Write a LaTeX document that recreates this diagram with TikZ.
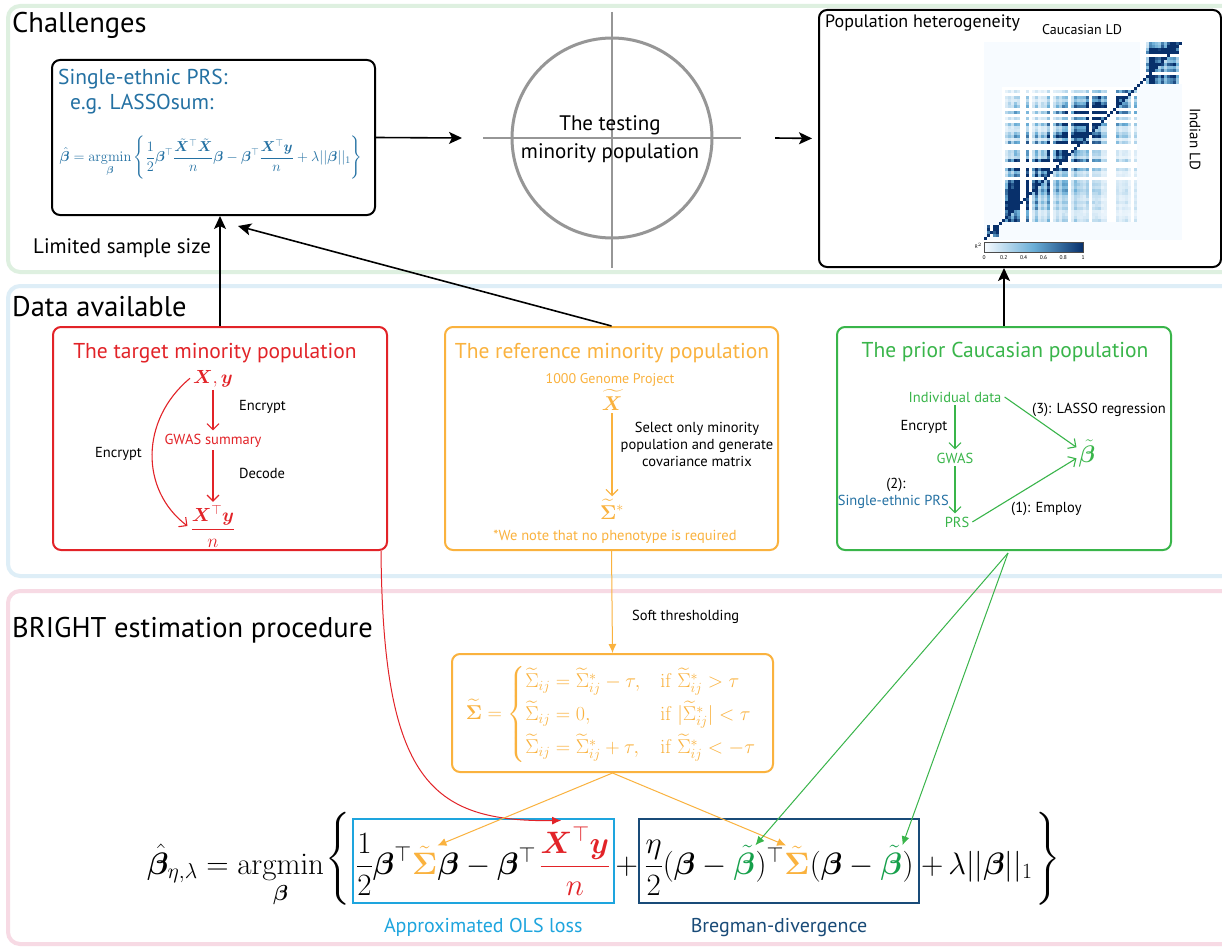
\RequirePackage{fix-cm}
\documentclass[tikz,border=0pt]{standalone}
\usepackage{amsmath,amssymb,bm}
\usepackage[no-math]{fontspec}
\setmainfont{PT Sans}
\usetikzlibrary{arrows.meta,calc}
\newcommand{\fsz}[2]{\fontsize{#1pt}{#2pt}\selectfont}
\definecolor{cred}{RGB}{226,35,40}
\definecolor{cyel}{RGB}{250,178,62}
\definecolor{cgrn}{RGB}{57,181,74}
\definecolor{cgrnd}{RGB}{22,160,75}
\definecolor{cblue}{RGB}{36,113,163}
\definecolor{olsblue}{RGB}{30,165,222}
\definecolor{bregblue}{RGB}{25,75,120}
\definecolor{pgreen}{RGB}{222,240,224}
\definecolor{pblue}{RGB}{222,238,247}
\definecolor{ppink}{RGB}{247,218,228}
\definecolor{cgray}{RGB}{150,150,150}
\definecolor{hmLow}{RGB}{247,251,255}
\definecolor{hmMid}{RGB}{107,174,214}
\definecolor{hmDark}{RGB}{8,48,107}
\begin{document}
\begin{tikzpicture}[x=1pt,y=-1pt,
  panel/.style={line width=4pt, rounded corners=12pt},
  bigbox/.style={draw, line width=2pt, rounded corners=8pt, inner sep=0pt},
  bigarrow/.style={line width=1.6pt, -{Stealth[length=13pt,width=12pt,inset=3pt]}},
  thinarr/.style={line width=1.1pt, -{Straight Barb[length=6pt,width=12pt]}},
  filledarr/.style={line width=1pt, -{Latex[length=9pt,width=8pt]}},
  lbl/.style={inner sep=0pt, anchor=base, font=\fsz{14.5}{17}},
  ttl/.style={inner sep=0pt, anchor=base, font=\fsz{21.5}{25}},
  sect/.style={inner sep=0pt, anchor=base west, font=\fsz{28.5}{33}},
  fml/.style={anchor=base west, inner sep=0pt, font=\fsz{31}{37}},
]
\useasboundingbox (0,0) rectangle (1222,947);
\clip (0,0) rectangle (1222,947);
\fill[white] (0,0) rectangle (1222,947);

% panels
\draw[panel, pgreen] (8,6) rectangle (1260,272);
\draw[panel, pblue] (8,286) rectangle (1260,576);
\draw[panel, ppink] (8,591) rectangle (1260,944);
\node[sect] (tChal) at (12,33) {Challenges};
\node[sect] (tData) at (12,316) {Data available};
\node[sect] (tBright) at (12,637) {BRIGHT estimation procedure};

% ---------- Challenges ----------
\node[bigbox, minimum width=323pt, minimum height=155pt] (lasso) at (213.5,137.5) {};
\node[inner sep=0pt, anchor=base west, text=cblue, font=\fsz{21.5}{25}] (lt1) at (58,85) {Single-ethnic PRS:};
\node[inner sep=0pt, anchor=base west, text=cblue, font=\fsz{21.5}{25}] (lt2) at (70,110) {e.g. LASSOsum:};
\node[text=cblue, font=\fsz{14.4}{16}, inner sep=0pt] (lform) at (211,158)
  {$\displaystyle \hat{\bm\beta}=\operatorname*{argmin}_{\bm\beta}\left\{\frac12\bm\beta^\top\frac{\tilde{\bm X}^\top\tilde{\bm X}}{n}\bm\beta-\bm\beta^\top\frac{\bm X^\top\bm y}{n}+\lambda||\bm\beta||_1\right\}$};

\draw[cgray, line width=1.5pt] (483,138) -- (741,138);
\draw[cgray, line width=1.5pt] (612,12) -- (612,268);
\node[draw=cgray, line width=3pt, circle, minimum size=200pt, inner sep=0pt] (circ) at (612,138) {};
\node[inner sep=0pt, anchor=base, font=\fsz{21}{25}] (ct1) at (610,130) {The testing};
\node[inner sep=0pt, anchor=base, font=\fsz{21}{25}] (ct2) at (610,158) {minority population};

\node[bigbox, minimum width=402pt, minimum height=257pt] (het) at (1020,138.5) {};
\node[inner sep=0pt, anchor=base west, font=\fsz{18}{22}] (hett) at (825,28) {Population heterogeneity};
\node[inner sep=0pt, anchor=base, font=\fsz{14}{17}] (cauc) at (1082,35) {Caucasian LD};
\node[inner sep=0pt, rotate=-90, font=\fsz{15}{18}] (ind) at (1195,139) {Indian LD};

% heatmap
\fill[hmLow] (984,42) rectangle (1182,240);
\foreach \a/\b/\f in {1/4/1.6,6/50/1.0,52/65/1.3}{
  \foreach \i in {\a,...,\b}{
    \pgfmathsetmacro\ri{mod(abs(sin(\i*127.1+11)*437.585),1)}
    \foreach \j in {\a,...,\b}{
      \pgfmathsetmacro\cj{mod(abs(sin(\j*69.5+3)*437.585),1)}
      \pgfmathsetmacro\nz{mod(abs(sin(\i*73.3+\j*51.7)*437.585),1)}
      \ifnum\i>\j \def\fac{0.75}\else\def\fac{2.2}\fi
      \pgfmathsetmacro\v{min(1,\f*\fac*\ri*\cj*(0.1+0.2*\nz+2.0/(1+((\i-\j)/8)^2)))}
      \pgfmathsetmacro\x{984+3*\i}
      \pgfmathsetmacro\y{240-3*\j}
      \ifdim\ri pt<0.2pt \def\cc{white}\else
        \ifdim\cj pt<0.2pt \def\cc{white}\else
          \ifdim\v pt<0.5pt \pgfmathtruncatemacro\pa{200*\v}\def\cc{hmMid!\pa!hmLow}%
          \else \pgfmathtruncatemacro\pb{200*\v-100}\def\cc{hmDark!\pb!hmMid}\fi
        \fi
      \fi
      \fill[\cc] (\x,\y) rectangle ++(3,-3);
    }
  }
}
\foreach \k in {0,...,65}{
  \fill[hmDark] (984+3*\k,240-3*\k) rectangle ++(3,-3);
}
\shade[left color=hmLow, right color=hmDark, middle color=hmMid] (984,242) rectangle (1083,252);
\draw[black!70, line width=0.5pt] (984,242) rectangle (1083,252);
\foreach \t/\l in {0/0,0.2/0.2,0.4/0.4,0.6/0.6,0.8/0.8,1/1}{
  \node[inner sep=0pt, anchor=base, font=\fsz{5.5}{6}] at (984+99*\t,259) {\l};
}
\node[inner sep=0pt, anchor=east, font=\fsz{5}{6}] (r2) at (982,246) {R$^2$};

\coordinate (a1end) at (462,138);
\draw[bigarrow] (lasso.east) -- (a1end);
\coordinate (a2start) at (775,138);
\draw[bigarrow, shorten >=6pt] (a2start) -- (het.west);

% ---------- Data available ----------
\node[bigbox, draw=cred, minimum width=334pt, minimum height=223pt] (red) at (220,438.5) {};
\node[bigbox, draw=cyel, minimum width=333pt, minimum height=223pt] (yel) at (611.5,438.5) {};
\node[bigbox, draw=cgrn, minimum width=334pt, minimum height=223pt] (grn) at (1004,438.5) {};

% red
\node[ttl, text=cred] (rtitle) at (215,358) {The target minority population};
\node[text=cred, font=\fsz{19}{23}, anchor=base, inner sep=3pt] (rXy) at (213,383) {$\bm X,\bm y$};
\node[lbl, text=cred, inner sep=3pt] (rgwas) at (213,444) {GWAS summary};
\node[text=cred, font=\fsz{19}{23}, inner sep=3pt] (rfrac) at (213,526) {$\dfrac{\bm X^\top\bm y}{n}$};
\draw[thinarr, cred] (rXy.south) -- (rXy.south |- rgwas.north);
\draw[thinarr, cred] (rgwas.south) -- (rgwas.south |- rfrac.north);
\draw[thinarr, cred] (rXy.west) .. controls (140,420) and (140,490) .. (rfrac.west);
\node[lbl, anchor=base west] (renc) at (239,410) {Encrypt};
\node[lbl, anchor=base west] (rdec) at (239,478) {Decode};
\node[lbl, anchor=base east] (renc2) at (142,457) {Encrypt};

% yellow
\node[ttl, text=cyel] (ytitle) at (612,358) {The reference minority population};
\node[lbl, text=cyel, font=\fsz{14}{16}] (ygen) at (610,383) {1000 Genome Project};
\node[text=cyel, font=\fsz{20}{23}, anchor=base, inner sep=3pt] (yX) at (612,410) {$\widetilde{\bm X}$};
\node[text=cyel, font=\fsz{20}{23}, anchor=base, inner sep=3pt] (ySig) at (612,519) {$\widetilde{\bm\Sigma}^*$};
\draw[thinarr, cyel] (yX.south) -- (yX.south |- ySig.north);
\node[lbl] (ysel1) at (697,432) {Select only minority};
\node[lbl] (ysel2) at (697,449) {population and generate};
\node[lbl] (ysel3) at (697,466) {covariance matrix};
\node[lbl, text=cyel, font=\fsz{14.5}{17}] (ynote) at (615,540) {*We note that no phenotype is required};

% green
\node[ttl, text=cgrn] (gtitle) at (1005,357) {The prior Caucasian population};
\node[lbl, text=cgrn, inner sep=3pt] (gInd) at (955,402) {Individual data};
\node[lbl, text=cgrn, inner sep=3pt] (gGWAS) at (955,463) {GWAS};
\node[lbl, text=cgrn, inner sep=3pt] (gPRS) at (957,527) {PRS};
\node[text=cgrn, font=\fsz{24}{28}, anchor=base, inner sep=2pt] (gbeta) at (1087,462) {$\tilde{\bm\beta}$};
\draw[thinarr, cgrn] (gInd.south) -- (gInd.south |- gGWAS.north);
\draw[thinarr, cgrn] (gGWAS.south) -- (gGWAS.south |- gPRS.north);
\draw[thinarr, cgrn] (gInd.east) -- ($(gbeta.west)+(0,-6)$);
\draw[thinarr, cgrn] (gPRS.east) -- ($(gbeta.west)+(0,5)$);
\node[lbl] (genc) at (924,430) {Encrypt};
\node[lbl] (g2) at (896,488) {(2):};
\node[lbl, anchor=base east, text=cblue] (gsing) at (949,505) {Single-ethnic PRS};
\node[lbl, anchor=base west] (g3) at (1032,413) {(3): LASSO regression};
\node[lbl, anchor=base west] (g1) at (1011,512) {(1): Employ};

% arrows between panels
\coordinate (lassoIn) at (238,226);
\draw[bigarrow] (red.north) -- (red.north |- lasso.south);
\draw[bigarrow] (yel.north) -- (lassoIn);
\draw[bigarrow] (grn.north) -- (grn.north |- het.south);
\node[inner sep=0pt, anchor=base west, font=\fsz{21}{25}] (lim) at (33,253) {Limited sample size};

% ---------- BRIGHT ----------
\node[draw=cyel, line width=2pt, rounded corners=8pt, minimum width=321pt, minimum height=118pt, inner sep=0pt] (thr) at (612.5,713) {};
\node[text=cyel, font=\fsz{20}{27.5}, inner sep=0pt] (thrf) at (611,714)
  {$\widetilde{\bm\Sigma}=\begin{cases}\widetilde\Sigma_{ij}=\widetilde\Sigma^*_{ij}-\tau, & \mathrm{if}\ \widetilde\Sigma^*_{ij}>\tau\\ \widetilde\Sigma_{ij}=0, & \mathrm{if}\ |\widetilde\Sigma^*_{ij}|<\tau\\ \widetilde\Sigma_{ij}=\widetilde\Sigma^*_{ij}+\tau, & \mathrm{if}\ \widetilde\Sigma^*_{ij}<-\tau\end{cases}$};
\draw[filledarr, cyel] (yel.south) -- (thr.north);
\node[lbl, anchor=base west] (soft) at (632,620) {Soft thresholding};

% main formula
\node[fml] (lhs) at (147,874) {$\displaystyle\hat{\bm\beta}_{\eta,\lambda}=\operatorname*{argmin}_{\bm\beta}$};
\node[fml] (lbr) at ([xshift=1pt,yshift=8pt]lhs.base east) {$\displaystyle\left\{\rule[-37pt]{0pt}{90pt}\right.$};
\node[fml] (o1) at ([xshift=4pt]lbr.base east |- lhs.base) {$\displaystyle\frac12\bm\beta^\top$};
\node[fml, text=cyel] (o2) at (o1.base east) {$\tilde{\bm\Sigma}$};
\node[fml] (o3) at (o2.base east) {$\bm\beta-\bm\beta^\top$};
\node[fml, text=cred] (o4) at ([xshift=3pt]o3.base east) {$\displaystyle\frac{\bm X^\top\bm y}{n}$};
\draw[olsblue, line width=2pt] ($(o1.base west)+(-3,-55)$) rectangle ($(o4.base east)+(3,29)$);
\node[fml] (plus) at ([xshift=5pt]o4.base east) {$+$};
\node[fml] (b1) at ([xshift=6pt]plus.base east) {$\displaystyle\frac{\eta}{2}(\bm\beta\mskip\medmuskip-\mskip\medmuskip$};
\node[fml, text=cgrnd] (b2) at (b1.base east) {$\tilde{\bm\beta}$};
\node[fml] (b3) at (b2.base east) {$)^\top$};
\node[fml, text=cyel] (b4) at (b3.base east) {$\tilde{\bm\Sigma}$};
\node[fml] (b5) at (b4.base east) {$(\bm\beta\mskip\medmuskip-\mskip\medmuskip$};
\node[fml, text=cgrnd] (b6) at (b5.base east) {$\tilde{\bm\beta}$};
\node[fml] (b7) at (b6.base east) {$)$};
\draw[bregblue, line width=2pt] ($(b1.base west)+(-5,-55)$) rectangle ($(b7.base east)+(5,29)$);
\node[fml] (rest) at ([xshift=7pt]b7.base east) {$+\,\lambda||\bm\beta||_1$};
\node[fml] (rbr) at ([xshift=1pt,yshift=8pt]rest.base east) {$\displaystyle\left.\rule[-37pt]{0pt}{90pt}\right\}$};
\node[inner sep=0pt, anchor=base, text=olsblue, font=\fsz{20}{24}] (olsl) at ($(o1.base west)!0.5!(o4.base east)+(0,58)$) {Approximated OLS loss};
\node[inner sep=0pt, anchor=base, text=bregblue, font=\fsz{20}{24}] (bregl) at ($(b1.base west)!0.5!(b7.base east)+(0,58)$) {Bregman-divergence};

\coordinate (redStart) at ($(red.south east)+(-7,0)$);
\draw[filledarr, cred] (redStart) .. controls (383,780) and (430,822) .. ($(o4.north west)+(22,-6)$);
\draw[filledarr, cyel] (thr.south) -- (o2.north east);
\draw[filledarr, cyel] (thr.south) -- ($(b4.north west)+(2,0)$);
\coordinate (grnStart) at ($(grn.south)+(4,2)$);
\draw[filledarr, cgrn] (grnStart) -- (b2.north east);
\draw[filledarr, cgrn] (grnStart) -- (b6.north east);
\end{tikzpicture}
\end{document}
